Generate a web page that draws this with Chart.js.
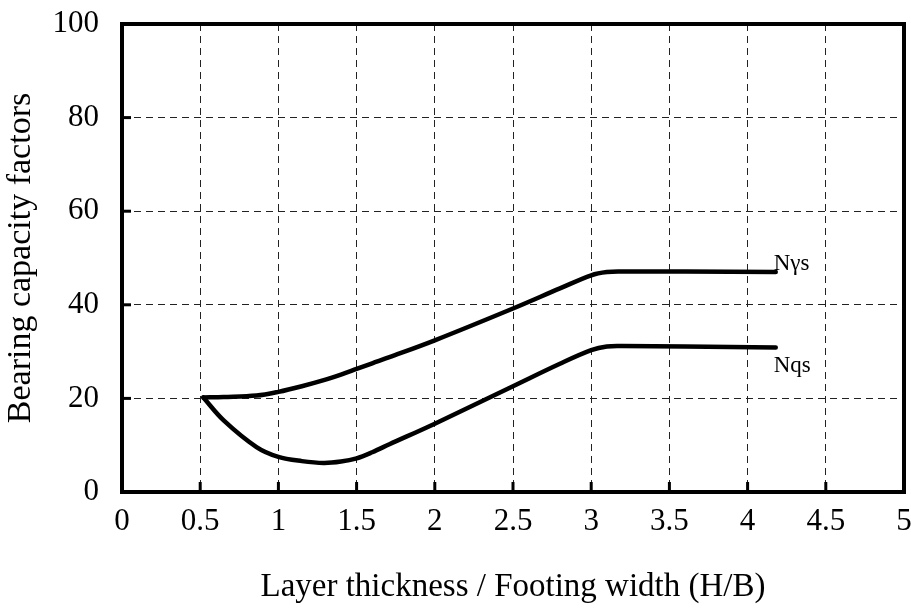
<!DOCTYPE html>
<html>
<head>
<meta charset="utf-8">
<title>Bearing capacity factors</title>
<script src="https://cdn.jsdelivr.net/npm/chart.js@4/dist/chart.umd.min.js"></script>
<style>
  html, body { margin: 0; padding: 0; background: #fff; }
  #wrap { width: 911px; height: 612px; }
</style>
</head>
<body>
<div id="wrap"><canvas id="grafico" width="911" height="612"></canvas></div>
<script>
// ===== DATA =====
const hb = [0.52, 0.65, 0.86, 1.0, 1.15, 1.29, 1.4, 1.5, 1.6, 1.71, 2.0, 2.5, 2.8, 3.0, 3.1, 3.2, 3.6, 4.18];
const nGammaS = [20.2, 20.3, 20.6, 21.4, 22.6, 23.9, 25.1, 26.3, 27.5, 28.8, 32.4, 39.2, 43.5, 46.3, 47.0, 47.1, 47.1, 47.0];
const nQS = [20.2, 15.3, 9.6, 7.5, 6.6, 6.2, 6.5, 7.2, 8.5, 10.2, 14.6, 22.6, 27.4, 30.3, 31.1, 31.2, 31.1, 30.9];

const xTicks = [0, 0.5, 1, 1.5, 2, 2.5, 3, 3.5, 4, 4.5, 5];
const yTicks = [0, 20, 40, 60, 80, 100];

const curveNames = ["N\u03b3s", "Nqs"];

const serif = "'Liberation Serif', 'Times New Roman', serif";

function pontos(ys) {
    return hb.map((x, i) => ({ x: x, y: ys[i] }));
}

// frame, inner tick stubs and curve labels
const moldura = {
    id: "moldura",
    afterDraw(chart) {
        const { ctx, chartArea: a, scales: { x, y } } = chart;
        ctx.save();
        ctx.strokeStyle = "#000";
        ctx.fillStyle = "#000";

        ctx.lineWidth = 3;
        xTicks.forEach(v => {
            const px = x.getPixelForValue(v);
            ctx.beginPath();
            ctx.moveTo(px, a.bottom);
            ctx.lineTo(px, a.bottom - 10);
            ctx.stroke();
        });
        yTicks.forEach(v => {
            const py = y.getPixelForValue(v);
            ctx.beginPath();
            ctx.moveTo(a.left, py);
            ctx.lineTo(a.left + 9, py);
            ctx.stroke();
        });

        ctx.lineWidth = 4;
        ctx.strokeRect(a.left, a.top, a.right - a.left, a.bottom - a.top);

        // names at the end of each curve
        ctx.font = "23px " + serif;
        ctx.textAlign = "left";
        ctx.textBaseline = "alphabetic";
        const last = hb.length - 1;
        const xe = x.getPixelForValue(hb[last]);
        ctx.fillText(curveNames[0], xe - 2, y.getPixelForValue(nGammaS[last]) - 2);
        ctx.fillText(curveNames[1], xe - 2, y.getPixelForValue(nQS[last]) + 25);
        ctx.restore();
    }
};

const gradeTracejada = {
    color: "#222",
    lineWidth: 1,
    drawTicks: false
};

function semPadding(s) {
    s.paddingLeft = 0;
    s.paddingRight = 0;
    s.paddingTop = 0;
    s.paddingBottom = 0;
}

const curva = {
    borderColor: "#000",
    borderWidth: 4.5,
    pointRadius: 0,
    tension: 0.35,
    borderCapStyle: "round",
    borderJoinStyle: "round"
};

new Chart(document.getElementById("grafico"), {
    type: "line",
    data: {
        datasets: [
            { ...curva, label: curveNames[0], data: pontos(nGammaS) },
            { ...curva, label: curveNames[1], data: pontos(nQS) }
        ]
    },
    options: {
        responsive: false,
        animation: false,
        layout: { padding: { top: 24, right: 7, left: 0, bottom: 0 } },
        plugins: {
            legend: { display: false },
            tooltip: { enabled: false }
        },
        scales: {
            x: {
                type: "linear",
                min: 0,
                max: 5,
                afterBuildTicks: s => { s.ticks = xTicks.map(v => ({ value: v })); },
                afterFit: s => { s.height = 120; semPadding(s); },
                grid: gradeTracejada,
                border: { display: false, dash: [7, 5] },
                ticks: {
                    padding: 11,
                    color: "#000",
                    font: { family: serif, size: 31 },
                    callback: v => String(v)
                },
                title: {
                    display: true,
                    text: "Layer thickness / Footing width (H/B)",
                    color: "#000",
                    font: { family: serif, size: 33 },
                    padding: { top: 0, bottom: 5 }
                }
            },
            y: {
                min: 0,
                max: 100,
                afterBuildTicks: s => { s.ticks = yTicks.map(v => ({ value: v })); },
                afterFit: s => { s.width = 122; semPadding(s); },
                grid: gradeTracejada,
                border: { display: false, dash: [7, 5] },
                ticks: {
                    padding: 23,
                    color: "#000",
                    font: { family: serif, size: 31 }
                },
                title: {
                    display: true,
                    text: "Bearing capacity factors",
                    color: "#000",
                    font: { family: serif, size: 34 },
                    padding: { top: 1, bottom: 0 }
                }
            }
        }
    },
    plugins: [moldura]
});
</script>
</body>
</html>
